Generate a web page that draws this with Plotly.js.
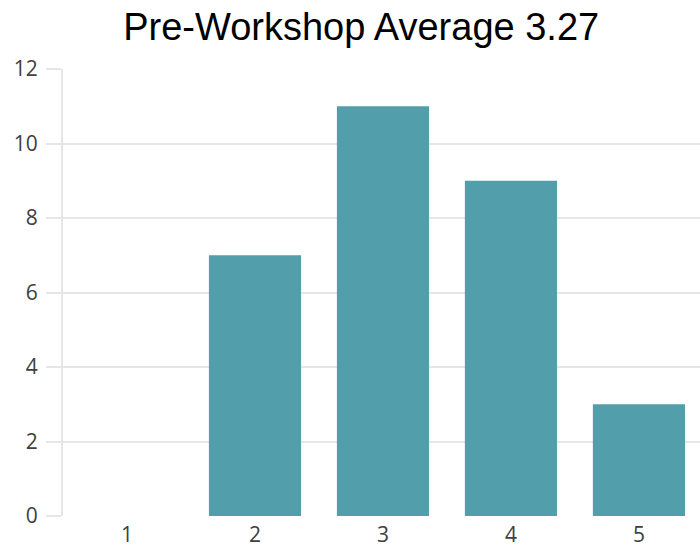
<!DOCTYPE html>
<html>
<head>
<meta charset="utf-8">
<script src="https://cdn.plot.ly/plotly-3.0.1.min.js"></script>
<style>
  html, body { margin: 0; padding: 0; background: #fff; overflow: hidden; }
  #chart { width: 700px; height: 548px; }
</style>
</head>
<body>
<div id="chart"></div>
<script>
// Rating scale and response counts
const ratings = [1, 2, 3, 4, 5];
const counts = [0, 7, 11, 9, 3];
const yTicks = [0, 2, 4, 6, 8, 10, 12];
const chartTitle = 'Pre-Workshop Average 3.27';

const trace = {
  type: 'bar',
  x: ratings,
  y: counts,
  marker: { color: '#539eab', line: { width: 0 } },
  hoverinfo: 'x+y'
};

const gridColor = '#e6e6e6';
const tickFont = { family: '"Open Sans", "Noto Sans", sans-serif', size: 21, color: '#404040' };

const layout = {
  width: 700,
  height: 548,
  margin: { l: 63, r: 0, t: 69, b: 32, pad: 0 },
  paper_bgcolor: '#ffffff',
  plot_bgcolor: '#ffffff',
  bargap: 0.28,
  showlegend: false,
  title: {
    text: chartTitle,
    font: { family: 'Arial, "Liberation Sans", sans-serif', size: 38, color: '#000000' },
    x: 0.516,
    xanchor: 'center',
    y: 0.951,
    yanchor: 'middle',
    yref: 'container'
  },
  xaxis: {
    type: 'linear',
    range: [0.5, 5.477],
    tickvals: ratings,
    ticktext: ratings.map(String),
    tickfont: tickFont,
    showgrid: false,
    zeroline: false,
    showline: false,
    ticks: '',
    ticklabelstandoff: 4,
    fixedrange: true
  },
  yaxis: {
    range: [0, 12],
    tickvals: yTicks,
    ticktext: yTicks.map(String),
    tickfont: tickFont,
    showgrid: true,
    gridcolor: gridColor,
    gridwidth: 2,
    zeroline: false,
    showline: true,
    linecolor: gridColor,
    linewidth: 2,
    ticks: 'outside',
    ticklen: 15,
    tickwidth: 2,
    tickcolor: gridColor,
    ticklabelstandoff: 4,
    fixedrange: true
  }
};

Plotly.newPlot('chart', [trace], layout, { displayModeBar: false, staticPlot: true });
</script>
</body>
</html>
